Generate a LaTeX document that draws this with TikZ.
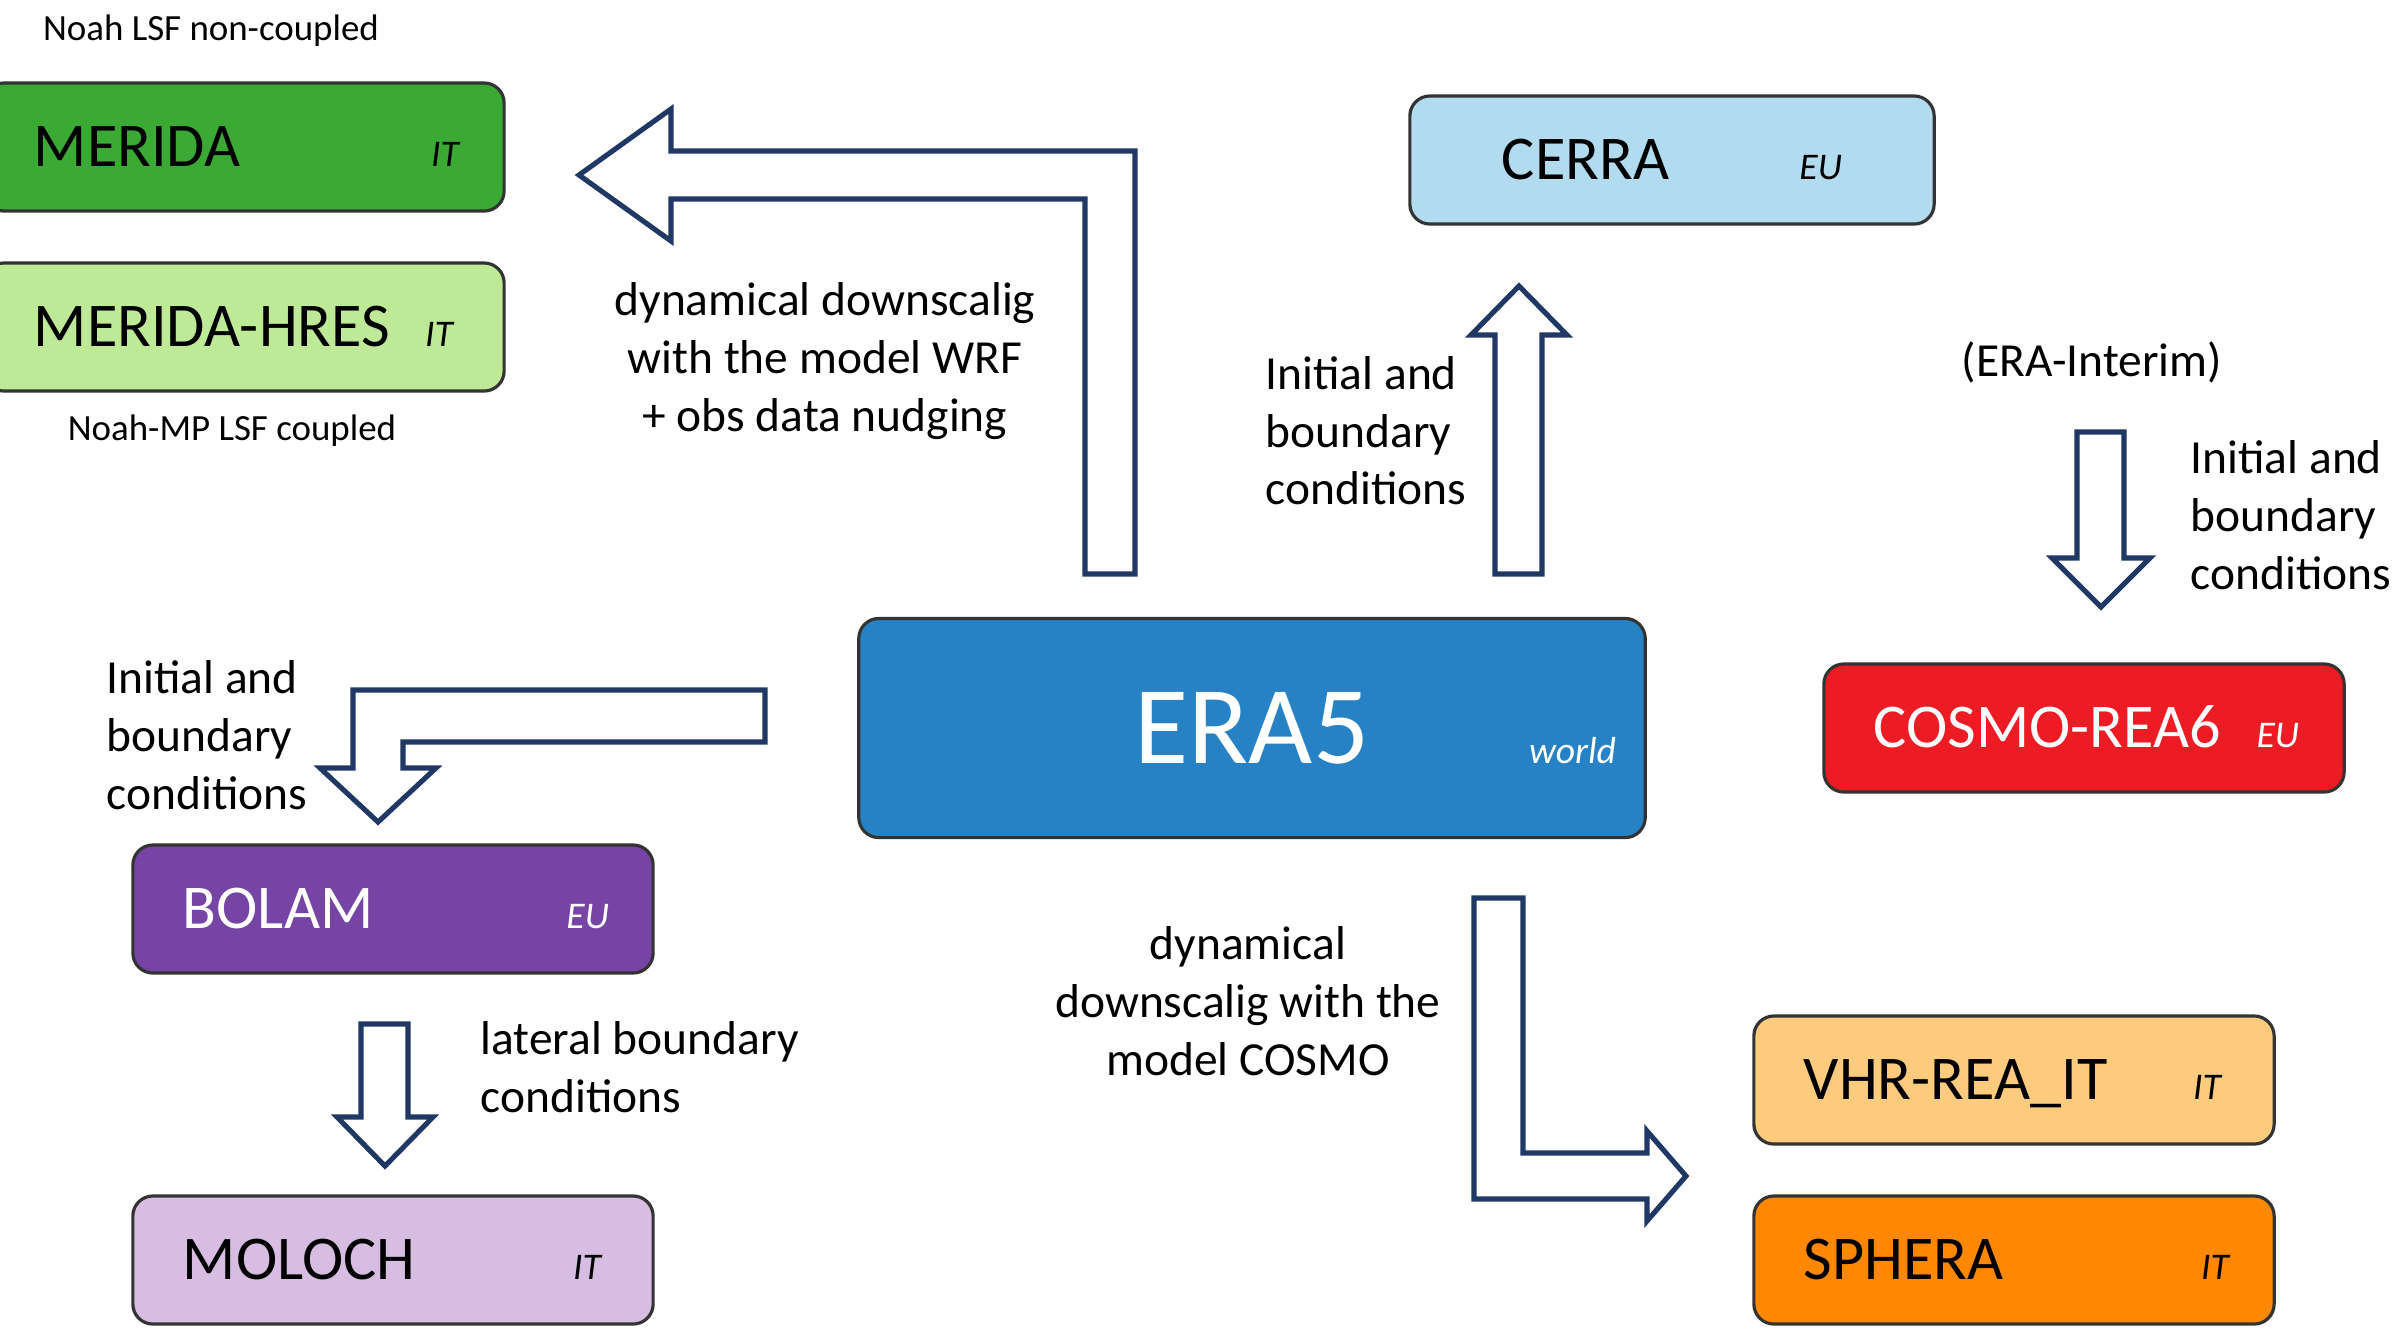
\documentclass[tikz,border=0pt]{standalone}
\usepackage{fontspec}
\setmainfont{Carlito}
\usetikzlibrary{positioning,calc}
\definecolor{meridagreen}{RGB}{58,170,53}
\definecolor{hresgreen}{RGB}{190,234,152}
\definecolor{cerrablue}{RGB}{178,219,239}
\definecolor{erablue}{RGB}{38,130,196}
\definecolor{cosmored}{RGB}{237,28,36}
\definecolor{bolampurple}{RGB}{117,68,165}
\definecolor{molochlilac}{RGB}{216,189,226}
\definecolor{vhrorange}{RGB}{253,203,125}
\definecolor{spheraorange}{RGB}{255,136,0}
\definecolor{arrownavy}{RGB}{31,56,100}

\begin{document}
\begin{tikzpicture}[x=0.01cm,y=-0.01cm,
  box/.style={draw=black!80,line width=0.9pt,rounded corners=0.2cm,minimum height=1.28cm},
  model/.style={box,minimum width=5.2cm,text width=4.2cm,inner xsep=0.5cm,align=left,text height=11pt,text depth=0pt,font=\fontsize{17.7}{21}\selectfont},
  region/.style={font=\fontsize{10.7}{13}\selectfont\itshape,inner sep=0pt,anchor=base east},
  remark/.style={font=\fontsize{13.5}{16.4}\selectfont,inner sep=0pt},
  lsfnote/.style={font=\fontsize{10.5}{12}\selectfont,inner sep=0pt},
  hollow/.style={draw=arrownavy,line width=1.45pt,fill=white,line join=miter}
]
  \fill[white] (0,0) rectangle (2396,1341);
  \useasboundingbox (0,0) rectangle (2396,1341);

  % reanalyses
  \node[model,fill=meridagreen] (merida) at (244,147) {MERIDA};
  \node[region] (merida-tag) at ([xshift=-0.46cm]merida.base east) {IT};
  \node[model,fill=hresgreen] (hres) at (244,327) {MERIDA-HRES};
  \node[region] (hres-tag) at ([xshift=-0.52cm]hres.base east) {IT};
  \node[model,fill=cerrablue,text width=3.4cm,inner xsep=0.92cm] (cerra) at (1672,160) {CERRA};
  \node[region] (cerra-tag) at ([xshift=-0.93cm]cerra.base east) {EU};
  \node[box,fill=erablue,text=white,minimum width=7.86cm,minimum height=2.19cm,
    font=\fontsize{31.5}{36}\selectfont] (era5) at (1252,728) {ERA5};
  \node[region,text=white] (era5-tag) at ([xshift=-0.3cm]era5.base east) {world};
  \node[model,fill=cosmored,text=white] (cosmo) at (2084,728) {COSMO-REA6};
  \node[region,text=white] (cosmo-tag) at ([xshift=-0.46cm]cosmo.base east) {EU};
  \node[model,fill=bolampurple,text=white] (bolam) at (393,909) {BOLAM};
  \node[region,text=white] (bolam-tag) at ([xshift=-0.45cm]bolam.base east) {EU};
  \node[model,fill=molochlilac] (moloch) at (393,1260) {MOLOCH};
  \node[region] (moloch-tag) at ([xshift=-0.53cm]moloch.base east) {IT};
  \node[model,fill=vhrorange] (vhr) at (2014,1080) {VHR-REA\_IT};
  \node[region] (vhr-tag) at ([xshift=-0.54cm]vhr.base east) {IT};
  \node[model,fill=spheraorange] (sphera) at (2014,1260) {SPHERA};
  \node[region] (sphera-tag) at ([xshift=-0.46cm]sphera.base east) {IT};

  % notes
  \node[lsfnote] (lsf-off) at (211,31) {Noah LSF non-coupled};
  \node[lsfnote] (lsf-on) at (232,431) {Noah-MP LSF coupled};
  \node[remark,align=center] (wrf-txt) at (825,361) {dynamical downscalig\\with the model WRF\\+ obs data nudging};
  \node[remark,align=left,anchor=west] (cerra-txt) at (1265,431) {Initial and\\boundary\\conditions};
  \node[remark] (interim-txt) at (2092,362) {(ERA-Interim)};
  \node[remark,align=left,anchor=west] (cosmo-txt) at (2190,515) {Initial and\\boundary\\conditions};
  \node[remark,align=left,anchor=west] (bolam-txt) at (106,735) {Initial and\\boundary\\conditions};
  \node[remark,align=left,anchor=west] (lateral-txt) at (480,1067) {lateral boundary\\conditions};
  \node[remark,align=center] (dyn-txt) at (1248,1001) {dynamical\\downscalig with the\\model COSMO};

  % block arrows
  \draw[hollow] (1085,574) -- (1085,199) -- (671,199) -- (671,241) -- (579,175) -- (671,109)
    -- (671,151) -- (1135,151) -- (1135,574) -- cycle;
  \draw[hollow] (1495,574) -- (1495,335) -- (1471,335) -- (1519,286) -- (1567,335) -- (1542,335)
    -- (1542,574) -- cycle;
  \draw[hollow] (2077,432) -- (2077,558) -- (2052,558) -- (2101,607) -- (2150,558) -- (2124,558)
    -- (2124,432) -- cycle;
  \draw[hollow] (765,690) -- (353,690) -- (353,768) -- (320,768) -- (378,822) -- (436,768)
    -- (403,768) -- (403,742) -- (765,742) -- cycle;
  \draw[hollow] (361,1024) -- (361,1117) -- (337,1117) -- (385,1166) -- (433,1117) -- (408,1117)
    -- (408,1024) -- cycle;
  \draw[hollow] (1474,898) -- (1523,898) -- (1523,1153) -- (1647,1153) -- (1647,1131) -- (1686,1176)
    -- (1647,1221) -- (1647,1199) -- (1474,1199) -- cycle;
\end{tikzpicture}
\end{document}
